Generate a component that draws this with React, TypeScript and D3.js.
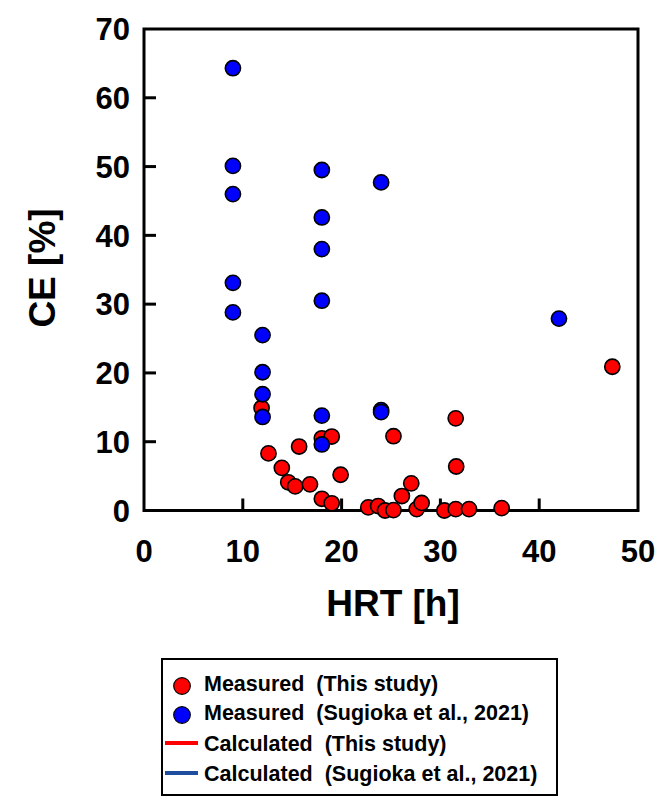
import React from "react";
import * as d3 from "d3";

const thisStudyX = [11.9, 12.6, 13.95, 14.6, 15.3, 15.7, 16.8, 18.0, 19.0, 18.0, 19.0, 19.9, 22.7, 23.7, 24.4, 25.25, 25.25, 26.1, 27.05, 27.6, 28.1, 30.4, 31.55, 31.6, 31.55, 32.9, 36.2, 47.4];
const thisStudyY = [14.9, 8.3, 6.2, 4.1, 3.5, 9.3, 3.8, 1.7, 1.05, 10.5, 10.75, 5.2, 0.45, 0.65, 0.0, 0.05, 10.8, 2.1, 3.95, 0.2, 1.1, 0.0, 0.2, 6.4, 13.4, 0.2, 0.35, 20.9];

const sugiokaX = [9, 9, 9, 9, 9, 12, 12, 12, 12, 18, 18, 18, 18, 18, 18, 24, 24, 24, 42];
const sugiokaY = [64.3, 50.1, 46.0, 33.1, 28.8, 25.5, 20.1, 16.9, 13.6, 49.5, 42.6, 38.0, 30.5, 13.8, 9.6, 47.7, 14.6, 14.3, 27.9];

const xTicks = [0, 10, 20, 30, 40, 50];
const yTicks = [0, 10, 20, 30, 40, 50, 60, 70];

const legendLabels = [
  "Measured  (This study)",
  "Measured  (Sugioka et al., 2021)",
  "Calculated  (This study)",
  "Calculated  (Sugioka et al., 2021)",
];

const FONT = "'Liberation Sans', Arial, sans-serif";

export default function App() {
  const x = d3.scaleLinear().domain([0, 50]).range([144, 638]);
  const y = d3.scaleLinear().domain([0, 70]).range([510.5, 29]);
  const red = thisStudyX.map((v, i) => [v, thisStudyY[i]]);
  const blue = sugiokaX.map((v, i) => [v, sugiokaY[i]]);
  const r = 7.6;
  const legendY = [683, 712, 743, 773];
  return (
    <div style={{ position: "absolute", left: 0, top: 0 }}>
      <svg width={665} height={801} style={{ display: "block", background: "#fff" }}>
        <rect x={0} y={0} width={665} height={801} fill="#fff" />
        <rect x={x(0)} y={y(70)} width={x(50) - x(0)} height={y(0) - y(70)} fill="none" stroke="#000" strokeWidth={3} />
        {yTicks.map((t) => (
          <g key={"y" + t}>
            {t > 0 && t < 70 && (
              <line x1={x(0)} x2={x(0) + 12} y1={y(t)} y2={y(t)} stroke="#000" strokeWidth={3} />
            )}
            <text x={130} y={y(t)} dy="0.36em" textAnchor="end" fontFamily={FONT} fontWeight="bold" fontSize={31}>
              {t}
            </text>
          </g>
        ))}
        {xTicks.map((t) => (
          <g key={"x" + t}>
            {t > 0 && t < 50 && (
              <line x1={x(t)} x2={x(t)} y1={y(0)} y2={y(0) - 12} stroke="#000" strokeWidth={3} />
            )}
            <text x={x(t)} y={551} dy="0.36em" textAnchor="middle" fontFamily={FONT} fontWeight="bold" fontSize={31}>
              {t}
            </text>
          </g>
        ))}
        <text x={393} y={603} dy="0.36em" textAnchor="middle" fontFamily={FONT} fontWeight="bold" fontSize={37}>
          HRT [h]
        </text>
        <text transform="translate(42,268) rotate(-90)" dy="0.36em" textAnchor="middle" fontFamily={FONT} fontWeight="bold" fontSize={37}>
          CE [%]
        </text>
        {red.map(([a, b], i) => (
          <circle key={"r" + i} cx={x(a)} cy={y(b)} r={r} fill="#ff0000" stroke="#000" strokeWidth={1.6} />
        ))}
        {blue.map(([a, b], i) => (
          <circle key={"b" + i} cx={x(a)} cy={y(b)} r={r} fill="#0000ff" stroke="#000" strokeWidth={1.6} />
        ))}
        <rect x={162} y={659} width={395} height={136} fill="#fff" stroke="#000" strokeWidth={2} />
        <circle cx={182} cy={legendY[0] + 3} r={8.3} fill="#ff0000" stroke="#000" strokeWidth={1.2} />
        <circle cx={182} cy={legendY[1] + 3} r={8.3} fill="#0000ff" stroke="#000" strokeWidth={1.2} />
        <line x1={165} x2={198} y1={legendY[2]} y2={legendY[2]} stroke="#ff0000" strokeWidth={4} />
        <line x1={165} x2={198} y1={legendY[3]} y2={legendY[3]} stroke="#1f4e9e" strokeWidth={4} />
        {legendLabels.map((l, i) => (
          <text key={l} x={204} y={legendY[i]} dy="0.36em" fontFamily={FONT} fontWeight="bold" fontSize={21.5} style={{ whiteSpace: "pre" }}>
            {l}
          </text>
        ))}
      </svg>
    </div>
  );
}
